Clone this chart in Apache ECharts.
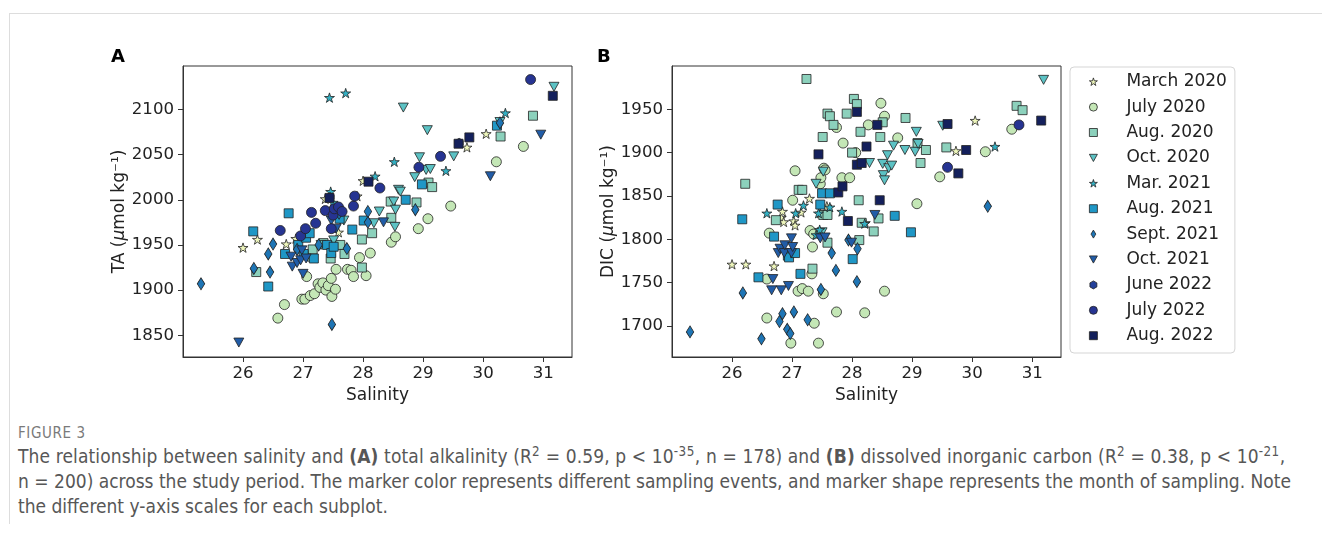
<!DOCTYPE html>
<html>
<head>
<meta charset="utf-8">
<script src="https://cdn.jsdelivr.net/npm/echarts@6/dist/echarts.min.js"></script>
<style>
  body { margin: 0; background: #fff; }
  #frame { position: absolute; left: 9px; top: 13px; width: 1313px; height: 510px; border-left: 1px solid #ddd; border-top: 1px solid #ddd; z-index: 2; pointer-events: none; }
  #chart { position: absolute; left: 0; top: 0; width: 1322px; height: 410px; }
  #caption { position: absolute; left: 18px; top: 0; width: 1300px; color: #575757; font-family: "Liberation Sans Narrow", "DejaVu Sans Condensed", sans-serif; white-space: nowrap; }
  #caption .fig { position: absolute; top: 424px; font-size: 15px; letter-spacing: 0.6px; color: #7a7a7a; line-height: 18px; }
  #caption .txt { position: absolute; top: 444px; font-size: 19px; line-height: 25px; }
  #caption .l1 { letter-spacing: 0.12px; }
  #caption sup { font-size: 0.7em; line-height: 0; vertical-align: 0.55em; letter-spacing: 0.5px; }
</style>
</head>
<body>
<div id="frame"></div>
<div id="chart"></div>
<div id="caption">
  <div class="fig">FIGURE 3</div>
  <div class="txt">
    <div class="l1">The relationship between salinity and <b>(A)</b> total alkalinity (R<sup>2</sup> = 0.59, p &lt; 10<sup>-35</sup>, n = 178) and <b>(B)</b> dissolved inorganic carbon (R<sup>2</sup> = 0.38, p &lt; 10<sup>-21</sup>,</div>
    <div>n = 200) across the study period. The marker color represents different sampling events, and marker shape represents the month of sampling. Note</div>
    <div>the different y-axis scales for each subplot.</div>
  </div>
</div>
<script>
// sampling events (legend order)
const events = ['March 2020', 'July 2020', 'Aug. 2020', 'Oct. 2020', 'Mar. 2021', 'Aug. 2021',
  'Sept. 2021', 'Oct. 2021', 'June 2022', 'July 2022', 'Aug. 2022'];

const salinityTicks = [26, 27, 28, 29, 30, 31];
const taTicks = [1850, 1900, 1950, 2000, 2050, 2100];
const dicTicks = [1700, 1750, 1800, 1850, 1900, 1950];

// panel A: [salinity, TA]
const taMarch2020 = [[26.0,1947],[26.24,1956],[26.72,1951],[26.88,1957],[27.37,2001],[27.59,1964],[27.9,2004],[28.0,2021],[29.73,2058],[30.05,2073]];
const taJuly2020 = [[26.58,1869],[26.69,1884],[26.98,1890],[27.03,1890],[27.06,1915],[27.12,1894],[27.19,1896],[27.25,1907],[27.28,1903],[27.33,1908],[27.38,1900],[27.42,1905],[27.48,1893],[27.54,1901],[27.47,1913],[27.55,1923],[27.74,1923],[27.8,1922],[27.84,1915],[28.05,1916],[27.94,1936],[28.12,1941],[28.47,1953],[28.54,1959],[28.92,1968],[29.08,1979],[29.46,1993],[30.22,2042],[30.67,2059]];
const taAug2020 = [[26.22,1920],[27.15,1937],[27.16,1945],[27.34,1952],[27.46,1935],[27.62,1950],[27.69,1940],[27.98,1925],[27.98,1956],[28.15,1963],[28.46,1998],[28.47,1980],[28.89,1997],[29.09,2019],[29.15,2014],[30.29,2070],[30.83,2093]];
const taOct2020 = [[27.3,1950],[27.51,1955],[27.62,1978],[27.68,1977],[28.18,1974],[28.27,1987],[28.51,1998],[28.54,1989],[28.53,1970],[28.59,2011],[28.62,2009],[28.67,2102],[28.86,2025],[28.94,2047],[29.05,2033],[29.12,2034],[29.07,2077],[29.51,2048],[30.28,2086],[31.18,2125]];
const taMar2021 = [[27.44,2113],[27.71,2118],[27.46,2009],[27.5,1997],[28.2,2026],[28.52,2042],[29.38,2032],[30.37,2096]];
const taAug2021 = [[26.17,1965],[26.42,1904],[26.7,1940],[26.76,1985],[26.92,1950],[27.01,1940],[27.05,1958],[27.11,1963],[27.18,1935],[27.4,1950],[27.47,1941],[27.51,1948],[27.61,1979],[27.82,1967],[28.01,1977],[28.71,2000],[28.98,2017],[30.23,2082]];
const taSept2021 = [[25.3,1907],[26.18,1924],[26.45,1920],[26.42,1940],[26.5,1951],[26.9,1945],[27.26,1950],[27.48,1862],[27.6,1985],[27.73,1946],[28.08,1987],[28.08,1975],[28.87,1989],[30.28,2085]];
const taOct2021 = [[25.93,1842],[26.8,1937],[26.82,1926],[26.9,1930],[26.96,1933],[26.98,1944],[27.0,1918],[27.05,1935],[27.47,1977],[27.55,1968],[28.34,1975],[30.12,2026],[30.96,2072]];
const taJune2022 = [[27.45,2003],[29.6,2063]];
const taJuly2022 = [[26.62,1966],[26.96,1960],[27.04,1968],[27.14,1986],[27.21,1974],[27.37,1988],[27.47,1968],[27.5,1983],[27.52,1990],[27.59,1992],[27.65,1987],[27.84,1993],[27.86,2004],[28.28,2013],[28.93,2036],[29.29,2048],[30.79,2133]];
const taAug2022 = [[27.44,2002],[28.09,2020],[29.59,2062],[29.77,2069],[31.16,2115]];

// panel B: [salinity, DIC]
const dicMarch2020 = [[26.0,1771],[26.23,1771],[26.7,1769],[26.82,1825],[26.84,1832],[26.86,1820],[27.03,1821],[27.05,1816],[27.15,1831],[27.29,1847],[27.47,1830],[27.58,1838],[28.22,1819],[29.73,1902],[30.05,1937]];
const dicJuly2020 = [[26.58,1754],[26.58,1709],[26.62,1807],[26.98,1680],[27.01,1845],[27.05,1879],[27.1,1740],[27.17,1743],[27.27,1740],[27.3,1810],[27.33,1760],[27.34,1791],[27.36,1806],[27.37,1703],[27.44,1680],[27.47,1864],[27.48,1871],[27.53,1882],[27.52,1737],[27.55,1880],[27.74,1716],[27.74,1929],[27.83,1871],[27.85,1911],[27.96,1871],[28.06,1900],[28.21,1715],[28.27,1932],[28.48,1957],[28.54,1942],[28.54,1740],[28.76,1917],[29.08,1841],[29.46,1872],[30.22,1901],[30.66,1927]];
const dicAug2020 = [[26.22,1864],[26.73,1822],[27.11,1857],[27.17,1857],[27.24,1985],[27.34,1766],[27.51,1918],[27.52,1828],[27.59,1828],[27.59,1796],[27.59,1945],[27.63,1942],[27.69,1932],[27.91,1945],[28.0,1900],[28.03,1962],[28.08,1956],[28.11,1845],[28.12,1799],[28.14,1924],[28.16,1819],[28.36,1809],[28.44,1824],[28.47,1918],[28.51,1935],[28.89,1940],[29.09,1911],[29.14,1888],[29.23,1903],[29.57,1906],[30.74,1954],[30.84,1949]];
const dicOct2020 = [[27.4,1864],[27.5,1808],[27.52,1878],[28.29,1888],[28.51,1887],[28.52,1874],[28.54,1868],[28.59,1897],[28.61,1882],[28.66,1885],[28.69,1908],[28.88,1903],[29.05,1901],[29.07,1924],[29.1,1910],[29.51,1931],[31.19,1984]];
const dicMar2021 = [[26.58,1830],[27.06,1830],[27.19,1839],[27.4,1805],[27.44,1830],[27.46,1811],[27.63,1837],[27.83,1832],[28.21,1818],[30.38,1907]];
const dicAug2021 = [[26.17,1823],[26.44,1756],[26.7,1803],[26.76,1840],[26.93,1781],[26.95,1779],[27.05,1784],[27.14,1760],[27.47,1840],[27.5,1853],[27.63,1853],[28.01,1777],[28.71,1827],[28.98,1808]];
const dicSept2021 = [[25.3,1693],[26.18,1738],[26.49,1685],[26.79,1705],[26.84,1714],[26.92,1696],[26.97,1691],[27.03,1716],[27.26,1707],[27.48,1742],[27.66,1784],[27.73,1764],[27.94,1799],[28.08,1751],[28.09,1789],[30.26,1838]];
const dicOct2021 = [[26.66,1741],[26.68,1754],[26.77,1784],[26.8,1789],[26.82,1741],[26.87,1784],[26.88,1793],[26.94,1746],[26.99,1801],[26.99,1784],[27.01,1791],[27.47,1801],[27.55,1802],[27.99,1796],[28.38,1828]];
const dicJune2022 = [[28.1,1887]];
const dicJuly2022 = [[29.59,1883],[30.78,1932]];
const dicAug2022 = [[27.44,1898],[27.77,1854],[27.84,1861],[27.93,1821],[28.08,1947],[28.08,1886],[28.16,1888],[28.24,1907],[28.42,1932],[28.46,1845],[29.59,1933],[29.77,1876],[29.9,1903],[31.15,1937]];

const taData = [taMarch2020, taJuly2020, taAug2020, taOct2020, taMar2021, taAug2021, taSept2021, taOct2021, taJune2022, taJuly2022, taAug2022];
const dicData = [dicMarch2020, dicJuly2020, dicAug2020, dicOct2020, dicMar2021, dicAug2021, dicSept2021, dicOct2021, dicJune2022, dicJuly2022, dicAug2022];

// marker shapes (matplotlib-like)
const STAR = 'path://M100,0L122.45,69.1L195.1,69.1L136.3,111.8L158.8,180.9L100,138.2L41.2,180.9L63.7,111.8L4.9,69.1L77.55,69.1Z';
const HEX = 'path://M50,0L93.3,25L93.3,75L50,100L6.7,75L6.7,25Z';
const THIN_DIAMOND = 'path://M30,0L60,50L30,100L0,50Z';
const DOWN_TRI = 'path://M0,0L100,0L50,90Z';

const markers = [
  { symbol: STAR, size: [10, 9.5], color: '#eef6bc' },
  { symbol: 'circle', size: 10, color: '#c4e7b6' },
  { symbol: 'rect', size: 9, color: '#8cd1bc' },
  { symbol: DOWN_TRI, size: [10, 9], color: '#5cc2c4' },
  { symbol: STAR, size: [10, 9.5], color: '#33b0c3' },
  { symbol: 'rect', size: 9, color: '#1f97c6' },
  { symbol: THIN_DIAMOND, size: [7.5, 12], color: '#1e75b5' },
  { symbol: DOWN_TRI, size: [10, 9], color: '#215ca7' },
  { symbol: HEX, size: [8, 9], color: '#24409a' },
  { symbol: 'circle', size: 10, color: '#263492' },
  { symbol: 'rect', size: 9, color: '#14205c' }
];

const FONT = 'DejaVu Sans';
const ink = '#222';
const edge = { borderColor: '#222', borderWidth: 0.8 };

function xAxisFor(gridIndex) {
  return {
    type: 'value', gridIndex, min: 25.0, max: 31.48,
    name: 'Salinity', nameLocation: 'middle', nameGap: 28,
    nameTextStyle: { fontFamily: FONT, fontSize: 17, color: ink },
    axisLine: { show: true, onZero: false, lineStyle: { color: '#333', width: 1 } },
    axisTick: { show: true, length: 5, customValues: salinityTicks, lineStyle: { color: '#333' } },
    axisLabel: { customValues: salinityTicks, fontFamily: FONT, fontSize: 16.6, color: ink, margin: 8,
      formatter: v => String(v) },
    splitLine: { show: false }
  };
}

function yAxisFor(gridIndex, label, min, max, ticks) {
  return {
    type: 'value', gridIndex, min, max,
    name: label + ' ({i|μ}mol kg⁻¹)', nameLocation: 'middle', nameGap: 51,
    nameTextStyle: { fontFamily: FONT, fontSize: 17, color: ink,
      rich: { i: { fontFamily: FONT, fontSize: 17, fontStyle: 'italic', color: ink } } },
    axisLine: { show: true, onZero: false, lineStyle: { color: '#333', width: 1 } },
    axisTick: { show: true, length: 5, customValues: ticks, lineStyle: { color: '#333' } },
    axisLabel: { customValues: ticks, fontFamily: FONT, fontSize: 16.6, color: ink, margin: 9,
      formatter: v => String(v) },
    splitLine: { show: false }
  };
}

const series = [];
[taData, dicData].forEach((panel, p) => {
  panel.forEach((pts, i) => {
    const m = markers[i];
    series.push({
      type: 'scatter', name: events[i], xAxisIndex: p, yAxisIndex: p,
      data: pts, symbol: m.symbol, symbolSize: m.size,
      itemStyle: Object.assign({ color: m.color, opacity: 1 }, edge)
    });
  });
});

const legendData = events.map((name, i) => ({
  name, icon: markers[i].symbol,
  itemStyle: Object.assign({ color: markers[i].color }, edge)
}));

const chart = echarts.init(document.getElementById('chart'), null, { renderer: 'canvas' });
chart.setOption({
  animation: false,
  backgroundColor: '#fff',
  title: [
    { text: 'A', left: 106, top: 43, textStyle: { fontFamily: FONT, fontSize: 18, fontWeight: 'bold', color: '#000' } },
    { text: 'B', left: 592, top: 43, textStyle: { fontFamily: FONT, fontSize: 18, fontWeight: 'bold', color: '#000' } }
  ],
  grid: [
    { left: 183, top: 66, width: 389, height: 291, show: true, borderColor: '#333', borderWidth: 1 },
    { left: 672, top: 66, width: 389, height: 291, show: true, borderColor: '#333', borderWidth: 1 }
  ],
  xAxis: [xAxisFor(0), xAxisFor(1)],
  yAxis: [
    yAxisFor(0, 'TA', 1826, 2148, taTicks),
    yAxisFor(1, 'DIC', 1664, 2000, dicTicks)
  ],
  legend: {
    data: legendData, orient: 'vertical', left: 1070, top: 67,
    padding: [5.7, 8, 8.3, 19], itemGap: 7.4, itemWidth: 8, itemHeight: 8,
    selectedMode: false,
    backgroundColor: '#fff', borderColor: '#d5d5d5', borderWidth: 1, borderRadius: 4,
    textStyle: { fontFamily: FONT, fontSize: 17, color: ink, lineHeight: 18, padding: [0, 0, 0, 24] }
  },
  series
});
</script>
</body>
</html>
